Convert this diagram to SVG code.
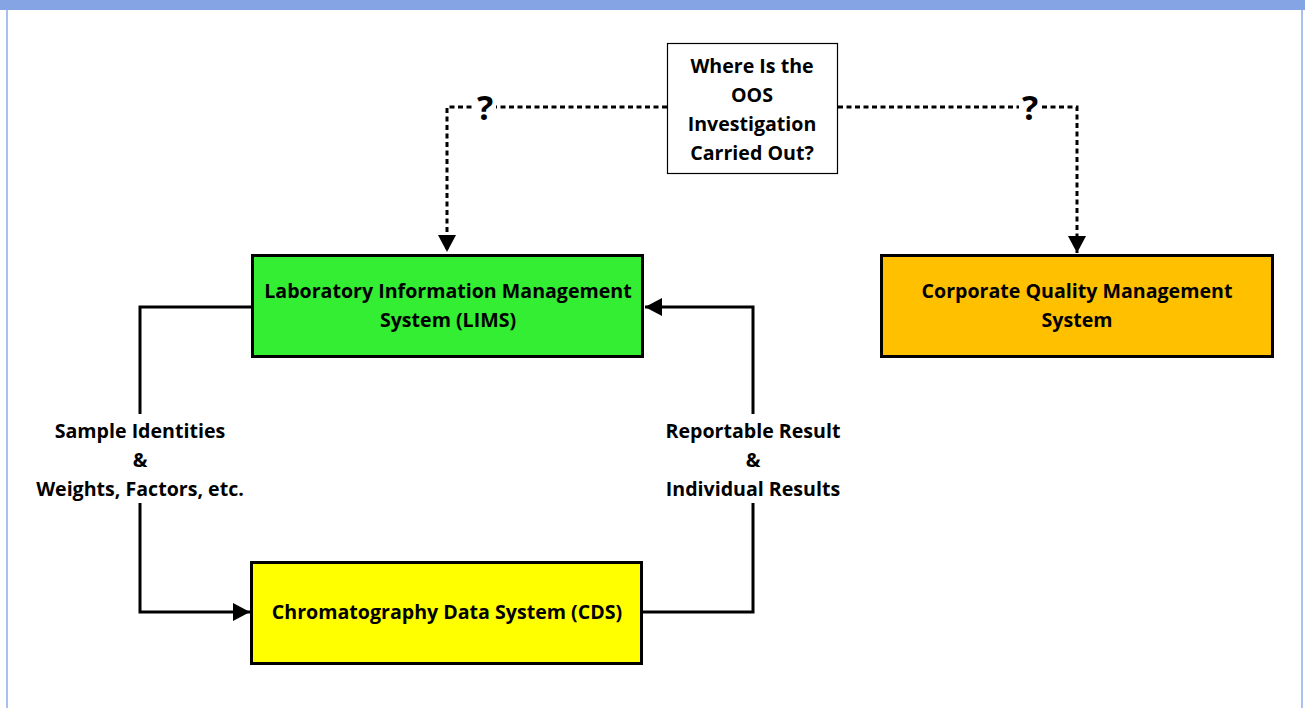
<svg xmlns="http://www.w3.org/2000/svg" width="1305" height="708" viewBox="0 0 1305 708">
  <style>
    .box { stroke: #000; stroke-width: 3; }
    .label { font-family: "Open Sans", "Liberation Sans", sans-serif; font-weight: bold; font-size: 19.6px; fill: #000; text-anchor: middle; }
    .flow { fill: none; stroke: #000; stroke-width: 3; }
    .dash { fill: none; stroke: #000; stroke-width: 3; stroke-dasharray: 5 3.5; }
    .q { font-family: "Open Sans", "Liberation Sans", sans-serif; font-weight: bold; font-size: 34px; fill: #000; text-anchor: middle; }
  </style>
  <defs>
    <marker id="arrow" markerUnits="userSpaceOnUse" markerWidth="20" markerHeight="20" viewBox="0 0 20 20" refX="18" refY="10" orient="auto">
      <path d="M1,1 L18,10 L1,19 Z" fill="#000"/>
    </marker>
  </defs>

  <!-- page frame -->
  <rect x="0" y="0" width="1305" height="708" fill="#ffffff"/>
  <rect x="0" y="0" width="1305" height="10" fill="#84a4e4"/>
  <line x1="7" y1="10" x2="7" y2="708" stroke="#a9c0f0" stroke-width="2"/>
  <line x1="1302" y1="10" x2="1302" y2="708" stroke="#a9c0f0" stroke-width="2"/>

  <!-- connectors -->
  <g id="connectors">
    <path class="dash" d="M667,107 H447 V252" marker-end="url(#arrow)"/>
    <path class="dash" d="M838,107 H1077 V253" marker-end="url(#arrow)"/>
    <rect x="474" y="88" width="22" height="36" fill="#fff"/>
    <rect x="1019" y="88" width="22" height="36" fill="#fff"/>
    <text class="q" x="485" y="120">?</text>
    <text class="q" x="1030" y="120">?</text>

    <path class="flow" d="M252,307 H140 V414"/>
    <path class="flow" d="M140,503 V612 H250" marker-end="url(#arrow)"/>
    <text class="label" x="140" y="438">Sample Identities</text>
    <text class="label" x="140" y="467">&amp;</text>
    <text class="label" x="140" y="496">Weights, Factors, etc.</text>

    <path class="flow" d="M642,612 H753 V503"/>
    <path class="flow" d="M753,414 V307 H645" marker-end="url(#arrow)"/>
    <text class="label" x="753" y="438">Reportable Result</text>
    <text class="label" x="753" y="467">&amp;</text>
    <text class="label" x="753" y="496">Individual Results</text>
  </g>

  <!-- question node -->
  <g id="oos-question">
    <rect x="667.5" y="43.5" width="170" height="130" fill="#fff" stroke="#000" stroke-width="1.2"/>
    <text class="label" x="752" y="73">Where Is the</text>
    <text class="label" x="752" y="102">OOS</text>
    <text class="label" x="752" y="131">Investigation</text>
    <text class="label" x="752" y="160">Carried Out?</text>
  </g>

  <!-- LIMS -->
  <g id="lims">
    <rect class="box" x="252.5" y="255.5" width="390" height="101" fill="#33ee33"/>
    <text class="label" x="448" y="298">Laboratory Information Management</text>
    <text class="label" x="448" y="327">System (LIMS)</text>
  </g>

  <!-- Corporate QMS -->
  <g id="cqms">
    <rect class="box" x="881.5" y="255.5" width="391" height="101" fill="#ffc000"/>
    <text class="label" x="1077" y="298">Corporate Quality Management</text>
    <text class="label" x="1077" y="327">System</text>
  </g>

  <!-- CDS -->
  <g id="cds">
    <rect class="box" x="251.5" y="562.5" width="390" height="101" fill="#ffff00"/>
    <text class="label" x="447" y="619">Chromatography Data System (CDS)</text>
  </g>
</svg>
